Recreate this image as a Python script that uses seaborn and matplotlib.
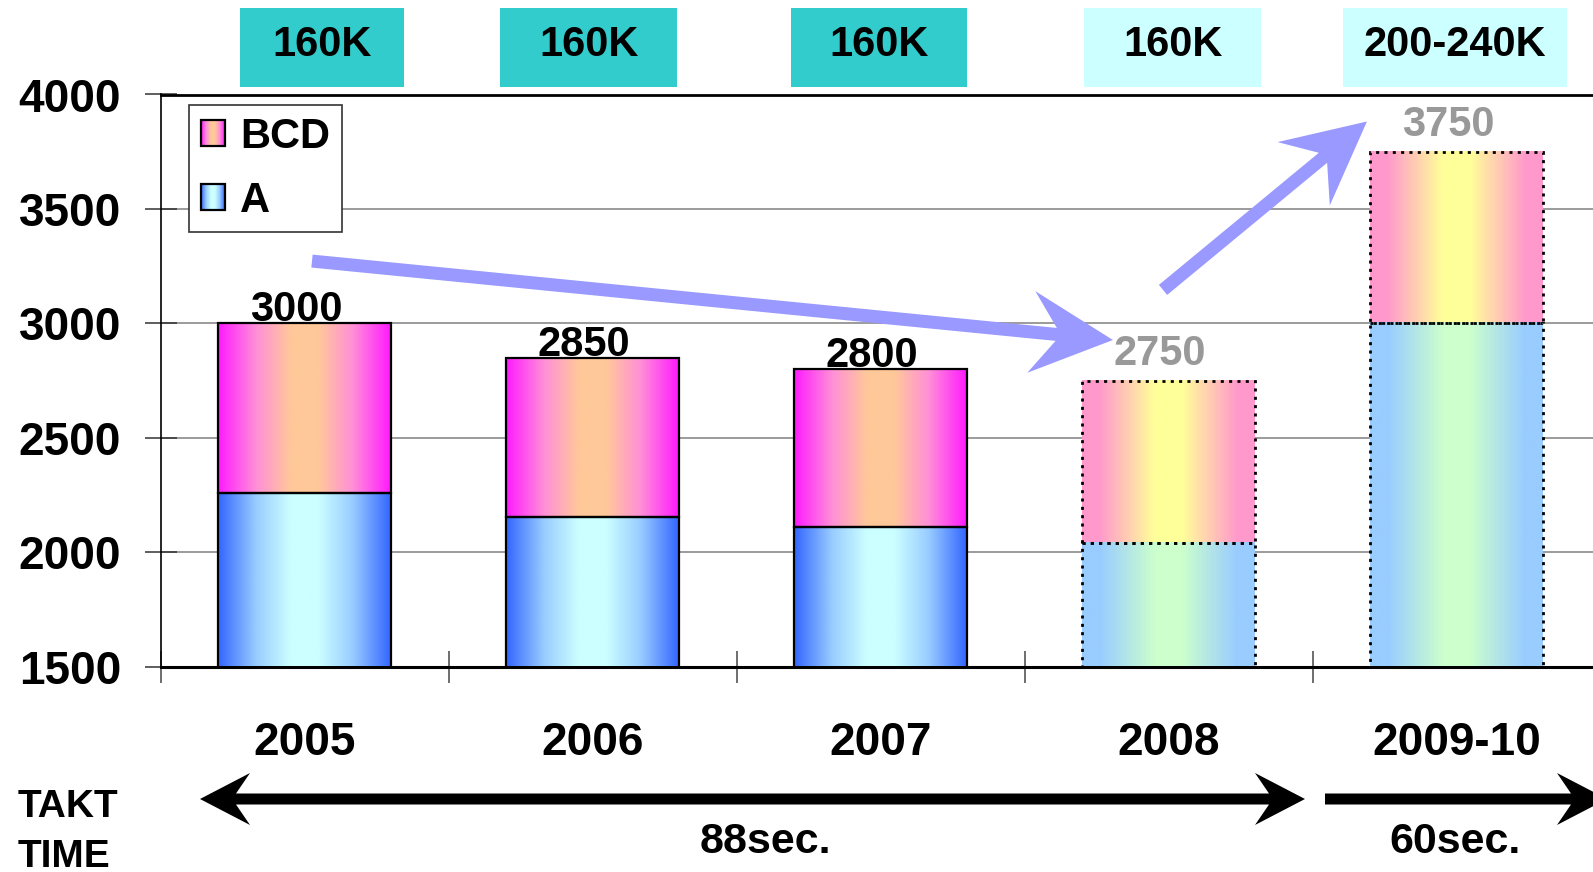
import numpy as np
import pandas as pd
import matplotlib
matplotlib.use("Agg")
import matplotlib.pyplot as plt
import matplotlib.transforms as mtransforms
import seaborn as sns
from matplotlib.patches import Rectangle, Polygon, Patch
from matplotlib.colors import LinearSegmentedColormap
from matplotlib.legend_handler import HandlerBase

# ---------------- data ----------------
years = ["2005", "2006", "2007", "2008", "2009-10"]
volume_a = [2260, 2155, 2110, 2040, 3000]
volume_total = [3000, 2850, 2800, 2750, 3750]
projected = [False, False, False, True, True]
capacity_labels = ["160K", "160K", "160K", "160K", "200-240K"]
capacity_firm = [True, True, True, False, False]
series_names = ["BCD", "A"]
takt_labels = ["88sec.", "60sec."]
y_ticks = [1500, 2000, 2500, 3000, 3500, 4000]

# ---------------- style ----------------
sns.set_style("white")
plt.rcParams["font.family"] = ["Liberation Sans", "DejaVu Sans"]
plt.rcParams["font.weight"] = "bold"
for k in ["text.color", "axes.edgecolor", "xtick.color", "ytick.color", "axes.labelcolor"]:
    plt.rcParams[k] = "black"

W, H = 1593, 872
fig = plt.figure(figsize=(W / 100, H / 100), dpi=100, facecolor="white")
ax = fig.add_axes([160.5 / W, (H - 666.5) / H, (1600.5 - 160.5) / W, (666.5 - 94.5) / H])

df = pd.DataFrame({"year": years, "A": volume_a, "total": volume_total})
sns.barplot(data=df, x="year", y="total", width=0.6, color="white", errorbar=None, ax=ax, zorder=2)
sns.barplot(data=df, x="year", y="A", width=0.6, color="white", errorbar=None, ax=ax, zorder=2)

n = len(years)
tot_patches = ax.patches[:n]
a_patches = ax.patches[n:2 * n]

def cmap_from(stops, name):
    return LinearSegmentedColormap.from_list(name, stops)

cm_a = cmap_from([(0, "#3366FF"), (0.22, "#99CCFF"), (0.42, "#CCFFFF"), (0.58, "#CCFFFF"), (0.78, "#99CCFF"), (1, "#3366FF")], "a")
cm_bcd = cmap_from([(0, "#FF1AFF"), (0.22, "#FF8FD8"), (0.42, "#FFC899"), (0.58, "#FFC899"), (0.78, "#FF8FD8"), (1, "#FF1AFF")], "bcd")
cm_a_p = cmap_from([(0, "#99CCFF"), (0.1, "#99CCFF"), (0.42, "#CCFFCC"), (0.58, "#CCFFCC"), (0.9, "#99CCFF"), (1, "#99CCFF")], "ap")
cm_bcd_p = cmap_from([(0, "#FF99CC"), (0.1, "#FF99CC"), (0.42, "#FFFF99"), (0.58, "#FFFF99"), (0.9, "#FF99CC"), (1, "#FF99CC")], "bp")

grad = np.linspace(0, 1, 256).reshape(1, -1)

for i, (pt, pa) in enumerate(zip(tot_patches, a_patches)):
    # turn the total bar into the upper (BCD) segment
    a_h = pa.get_height()
    pt.set_height(pt.get_height() - a_h)
    pt.set_y(a_h)
    for p, cm in ((pt, cm_bcd_p if projected[i] else cm_bcd), (pa, cm_a_p if projected[i] else cm_a)):
        x0, y0, w, h = p.get_x(), p.get_y(), p.get_width(), p.get_height()
        ax.imshow(grad, cmap=cm, aspect="auto", extent=(x0, x0 + w, y0, y0 + h),
                  interpolation="bilinear", zorder=3)
        p.set_facecolor("none")
        p.set_edgecolor("black")
        if projected[i]:
            p.set_linewidth(2.0)
            p.set_linestyle((0, (1.1, 1.9)))
        else:
            p.set_linewidth(1.6)
            p.set_linestyle("-")
        p.set_zorder(4)

# ---------------- axes ----------------
ax.set_xlabel("")
ax.set_ylabel("")
ax.set_ylim(1500, 4000)
ax.set_xlim(-0.5, n - 0.5)
ax.set_yticks(y_ticks)
ax.set_yticklabels([str(v) for v in y_ticks])
ax.tick_params(axis="y", left=True, direction="inout", length=23, width=1.1, labelsize=33, pad=17,
               color="#333333")
ax.set_xticks(np.arange(-0.5, n, 1.0))
ax.set_xticklabels([""] * (n + 1))
ax.set_xticks(np.arange(n), minor=True)
ax.set_xticklabels(years, minor=True)
ax.tick_params(axis="x", which="major", bottom=True, direction="inout", length=23, width=1.2,
               color="#555555")
ax.tick_params(axis="x", which="minor", bottom=True, length=0, labelsize=33, pad=39.5)
ax.yaxis.grid(True, color="#808080", lw=1.1)
ax.xaxis.grid(False)
ax.set_axisbelow(True)
ax.spines["top"].set_linewidth(2.0)
ax.spines["bottom"].set_linewidth(2.2)
ax.spines["left"].set_linewidth(1.2)
ax.spines["right"].set_visible(False)

# value labels
for i, t in enumerate(volume_total):
    ax.annotate(f"{t}", (i, t), xytext=(-6, 11 if projected[i] else 1.5), textcoords="offset points",
                ha="center", va="baseline", fontsize=30, fontweight="bold",
                color="#999999" if projected[i] else "black", zorder=6)

# capacity boxes above plot
trans_top = mtransforms.blended_transform_factory(ax.transData, fig.transFigure)
box_left = [-0.224, 0.679, 1.689, 2.707, 3.606]
box_width = [0.57, 0.615, 0.611, 0.615, 0.778]
for i, lab in enumerate(capacity_labels):
    ax.add_patch(Rectangle((box_left[i], (H - 87) / H), box_width[i], 79 / H, transform=trans_top,
                           facecolor="#33CCCC" if capacity_firm[i] else "#CCFFFF", edgecolor="none",
                           clip_on=False, zorder=1))
    ax.text(box_left[i] + box_width[i] / 2, (H - 56) / H, lab, transform=trans_top, ha="center",
            va="baseline", fontsize=30, fontweight="bold", clip_on=False)

# ---------------- arrows ----------------
def arrow_poly(p0, p1, shaft_w, head_len, head_hw, notch, double=False):
    p0 = np.asarray(p0, float); p1 = np.asarray(p1, float)
    d = p1 - p0; L = np.hypot(*d); u = d / L; nv = np.array([-u[1], u[0]])
    hs = shaft_w / 2
    loc = []
    if double:
        loc += [(0, 0), (head_len, head_hw), (notch, hs)]
    else:
        loc += [(0, hs)]
    loc += [(L - notch, hs), (L - head_len, head_hw), (L, 0), (L - head_len, -head_hw), (L - notch, -hs)]
    if double:
        loc += [(notch, -hs), (head_len, -head_hw)]
    else:
        loc += [(0, -hs)]
    return np.array([p0 + s * u + t * nv for s, t in loc])

ident = mtransforms.IdentityTransform()
blue_arrows = [((0.026, 3272), (2.807, 2927)), ((2.981, 3146), (3.689, 3882))]
for a0, a1 in blue_arrows:
    q0 = ax.transData.transform(a0); q1 = ax.transData.transform(a1)
    pts = arrow_poly(q0, q1, 13, 82, 41, 57)
    fig.add_artist(Polygon(pts, closed=True, transform=ident, facecolor="#9999FF", edgecolor="none", zorder=5))

yb = H - 799
fig.add_artist(Polygon(arrow_poly((200, yb), (1305, yb), 11, 50, 26, 36, double=True), closed=True,
                       transform=ident, facecolor="black", edgecolor="none"))
fig.add_artist(Polygon(arrow_poly((1325, yb), (1607, yb), 11, 50, 26, 36), closed=True,
                       transform=ident, facecolor="black", edgecolor="none"))

fig.text(18 / W, (H - 817) / H, "TAKT", fontsize=28, fontweight="bold", ha="left", va="baseline")
fig.text(18 / W, (H - 867) / H, "TIME", fontsize=28, fontweight="bold", ha="left", va="baseline")
fig.text(765 / W, (H - 853) / H, takt_labels[0], fontsize=31, fontweight="bold", ha="center", va="baseline")
fig.text(1455 / W, (H - 853) / H, takt_labels[1], fontsize=31, fontweight="bold", ha="center", va="baseline")

# ---------------- legend ----------------
class GradHandler(HandlerBase):
    def __init__(self, cmap):
        super().__init__()
        self.cmap = cmap

    def create_artists(self, legend, orig_handle, xdescent, ydescent, width, height, fontsize, trans):
        k = 24
        arts = []
        for j in range(k):
            arts.append(Rectangle((-xdescent + j * width / k, -ydescent), width / k * 1.05, height,
                                  facecolor=self.cmap((j + 0.5) / k), edgecolor="none", transform=trans))
        arts.append(Rectangle((-xdescent, -ydescent), width, height, facecolor="none",
                              edgecolor="black", lw=1.6, transform=trans))
        return arts

h_bcd = Patch(facecolor="#FFC899")
h_a = Patch(facecolor="#CCFFFF")
leg = ax.legend(handles=[h_bcd, h_a], labels=series_names,
                handler_map={h_bcd: GradHandler(cm_bcd), h_a: GradHandler(cm_a)},
                loc="upper left", bbox_to_anchor=(189 / W, 1 - 105 / H), bbox_transform=fig.transFigure,
                borderaxespad=0, frameon=True, fancybox=False, framealpha=1,
                prop=dict(weight="bold", size=30), handlelength=0.58, handleheight=0.56,
                handletextpad=0.36, borderpad=0.28, labelspacing=0.58)
leg.get_frame().set_edgecolor("#333333")
leg.get_frame().set_linewidth(1.2)
leg.set_zorder(7)

fig.savefig("out.png", dpi=100, facecolor="white")
